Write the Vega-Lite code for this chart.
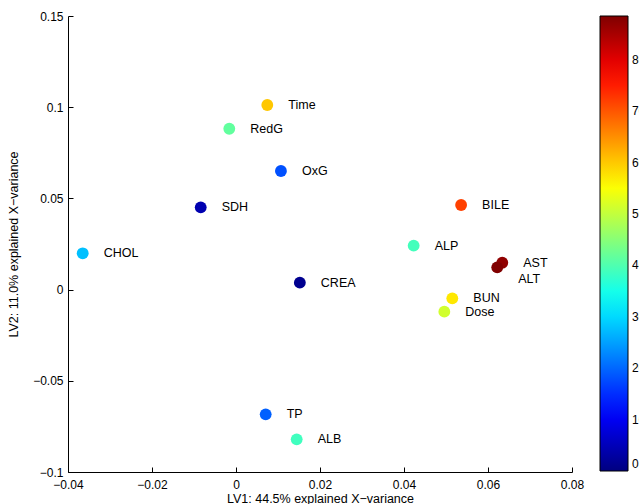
{
  "$schema": "https://vega.github.io/schema/vega-lite/v6.json",
  "width": 504,
  "height": 456,
  "autosize": {"type": "none"},
  "padding": {"left": 68, "top": 16, "right": 67, "bottom": 32},
  "background": "white",
  "config": {
    "view": {"stroke": null},
    "font": "Liberation Sans",
    "axis": {
      "grid": false,
      "domainColor": "black",
      "domainWidth": 1,
      "tickColor": "black",
      "tickWidth": 1,
      "tickSize": -5,
      "labelColor": "black",
      "labelFontSize": 12,
      "labelFont": "Liberation Sans",
      "titleColor": "black",
      "titleFont": "Liberation Sans",
      "titleFontSize": 12.5,
      "titleFontWeight": "normal",
      "labelOverlap": false,
      "labelBound": false,
      "labelFlush": false,
      "format": ".2~g"
    }
  },
  "data": {
    "values": [
      {"name": "Time", "lv1": 0.00745, "lv2": 0.1012, "c": 60.2},
      {"name": "RedG", "lv1": -0.0016, "lv2": 0.0882, "c": 41.6},
      {"name": "OxG", "lv1": 0.0107, "lv2": 0.0650, "c": 18.0},
      {"name": "SDH", "lv1": -0.0084, "lv2": 0.0451, "c": 4.2},
      {"name": "CHOL", "lv1": -0.0365, "lv2": 0.0199, "c": 27.7},
      {"name": "CREA", "lv1": 0.0152, "lv2": 0.0038, "c": 1.4},
      {"name": "TP", "lv1": 0.00707, "lv2": -0.0684, "c": 19.4},
      {"name": "ALB", "lv1": 0.01445, "lv2": -0.0821, "c": 38.7},
      {"name": "BILE", "lv1": 0.0536, "lv2": 0.0464, "c": 71.9},
      {"name": "ALP", "lv1": 0.0423, "lv2": 0.0241, "c": 39.0},
      {"name": "AST", "lv1": 0.0634, "lv2": 0.0147, "c": 87.1},
      {"name": "ALT", "lv1": 0.0622, "lv2": 0.0122, "c": 88.5},
      {"name": "BUN", "lv1": 0.0515, "lv2": -0.0048, "c": 57.3},
      {"name": "Dose", "lv1": 0.0496, "lv2": -0.0121, "c": 51.3}
    ]
  },
  "encoding": {
    "x": {
      "field": "lv1",
      "type": "quantitative",
      "scale": {"domain": [-0.04, 0.08], "nice": false, "zero": false},
      "axis": {
        "title": "LV1: 44.5% explained X−variance",
        "values": [-0.04, -0.02, 0, 0.02, 0.04, 0.06, 0.08],
        "labelPadding": 12,
        "titlePadding": 2
      }
    },
    "y": {
      "field": "lv2",
      "type": "quantitative",
      "scale": {"domain": [-0.1, 0.15], "nice": false, "zero": false},
      "axis": {
        "title": "LV2: 11.0% explained X−variance",
        "values": [-0.1, -0.05, 0, 0.05, 0.1, 0.15],
        "labelPadding": 10,
        "titlePadding": 12
      }
    }
  },
  "layer": [
    {
      "mark": {"type": "circle", "size": 140, "opacity": 1},
      "encoding": {
        "color": {
          "field": "c",
          "type": "quantitative",
          "scale": {
            "type": "linear",
            "interpolate": "rgb",
            "domain": [0, 11.0625, 33.1875, 55.3125, 77.4375, 88.5],
            "range": ["#000080", "#0000ff", "#00ffff", "#ffff00", "#ff0000", "#800000"]
          },
          "legend": {
            "orient": "none",
            "legendX": 532,
            "legendY": 0,
            "direction": "vertical",
            "title": null,
            "padding": 0,
            "gradientLength": 455,
            "gradientThickness": 28,
            "gradientStrokeColor": "black",
            "gradientStrokeWidth": 1,
            "values": [0, 10, 20, 30, 40, 50, 60, 70, 80],
            "labelFontSize": 12,
            "labelColor": "black",
            "labelOffset": 4,
            "labelOverlap": false
          }
        }
      }
    },
    {
      "transform": [{"filter": "datum.name !== 'ALT'"}],
      "mark": {"type": "text", "align": "left", "baseline": "middle", "dx": 21, "fontSize": 12.5, "font": "Liberation Sans", "color": "black"},
      "encoding": {"text": {"field": "name", "type": "nominal"}}
    },
    {
      "transform": [{"filter": "datum.name === 'ALT'"}],
      "mark": {"type": "text", "align": "left", "baseline": "middle", "dx": 21, "dy": 12, "fontSize": 12.5, "font": "Liberation Sans", "color": "black"},
      "encoding": {"text": {"field": "name", "type": "nominal"}}
    }
  ]
}
